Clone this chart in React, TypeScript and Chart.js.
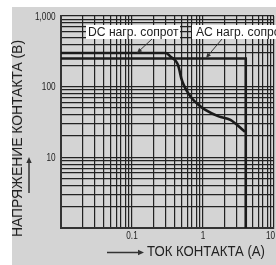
import React, { useEffect, useRef } from "react";
import { Chart, registerables } from "chart.js";

Chart.register(...registerables);

// ---- data ----
const dcCurrent = [0.01, 0.3, 0.35, 0.41, 0.445, 0.465, 0.495, 0.535, 0.6, 0.7, 0.87, 1.08, 1.66, 2.43, 3.9];
const dcVoltage = [300, 300, 265, 233, 203, 172, 131, 106, 85, 68, 55, 47, 38, 34, 23];
const acCurrent = [0.01, 4, 4];
const acVoltage = [250, 250, 1];

const xDecades = [0.01, 0.1, 1];
const yDecades = [1, 10, 100];
const gridMultipliers = [1, 2, 3, 4, 5, 6, 7, 8, 9];

const xLabelValues = [0.1, 1, 10];
const xLabelTexts = ["0.1", "1", "10"];
const yLabelValues = [10, 100, 1000];
const yLabelTexts = ["10", "100", "1,000"];

const yTitle = "НАПРЯЖЕНИЕ КОНТАКТА (В)";
const xTitle = "ТОК КОНТАКТА (A)";
const dcNote = "DC нагр. сопрот";
const acNote = "AC нагр. сопрот";

const GREY = "#d4d4d4";
const INK = "#222";

function buildGrid(decades: number[], last: number) {
  const out: { value: number }[] = [];
  decades.forEach((d) => gridMultipliers.forEach((m) => out.push({ value: +(d * m).toPrecision(6) })));
  out.push({ value: last });
  return out;
}

function condText(
  ctx: CanvasRenderingContext2D,
  text: string,
  x: number,
  y: number,
  size: number,
  width: number | null,
  sxDefault: number,
  align: CanvasTextAlign,
  angle = 0
) {
  ctx.save();
  ctx.font = `${size}px "Liberation Sans", Arial, sans-serif`;
  const w = ctx.measureText(text).width;
  const sx = width ? width / w : sxDefault;
  ctx.translate(x, y);
  if (angle) ctx.rotate(angle);
  ctx.scale(sx, 1);
  ctx.textAlign = align;
  ctx.textBaseline = "middle";
  ctx.fillStyle = INK;
  ctx.fillText(text, 0, 0);
  ctx.restore();
}

function arrow(ctx: CanvasRenderingContext2D, x1: number, y1: number, x2: number, y2: number, lw: number, head: number) {
  const a = Math.atan2(y2 - y1, x2 - x1);
  ctx.save();
  ctx.strokeStyle = "#333";
  ctx.fillStyle = "#333";
  ctx.lineWidth = lw;
  ctx.beginPath();
  ctx.moveTo(x1, y1);
  ctx.lineTo(x2 - Math.cos(a) * head * 0.6, y2 - Math.sin(a) * head * 0.6);
  ctx.stroke();
  ctx.beginPath();
  ctx.moveTo(x2, y2);
  ctx.lineTo(x2 - head * Math.cos(a) + head * 0.45 * Math.sin(a), y2 - head * Math.sin(a) - head * 0.45 * Math.cos(a));
  ctx.lineTo(x2 - head * Math.cos(a) - head * 0.45 * Math.sin(a), y2 - head * Math.sin(a) + head * 0.45 * Math.cos(a));
  ctx.closePath();
  ctx.fill();
  ctx.restore();
}

const decorPlugin = {
  id: "decor",
  beforeDraw(chart: any) {
    const ctx = chart.ctx as CanvasRenderingContext2D;
    ctx.save();
    ctx.fillStyle = "#ffffff";
    ctx.fillRect(0, 0, chart.width, chart.height);
    ctx.fillStyle = GREY;
    ctx.fillRect(12, 7, chart.width - 12, chart.height - 7);
    ctx.restore();
  },
  afterDraw(chart: any) {
    const ctx = chart.ctx as CanvasRenderingContext2D;
    const xs = chart.scales.x;
    const ys = chart.scales.y;
    // tick labels
    yLabelValues.forEach((v, i) => {
      condText(ctx, yLabelTexts[i], 55.5, ys.getPixelForValue(v) + 1, 10, null, 0.82, "right");
    });
    xLabelValues.forEach((v, i) => {
      const px = xs.getPixelForValue(v);
      const isLast = i === xLabelValues.length - 1;
      condText(ctx, xLabelTexts[i], isLast ? px + 1 : px, 236, 10, null, 0.82, isLast ? "right" : "center");
    });
    // axis titles
    condText(ctx, yTitle, 18, 138.5, 15, 197, 0.84, "center", -Math.PI / 2);
    arrow(ctx, 29, 193, 29, 157, 1.5, 6);
    condText(ctx, xTitle, 147, 252, 15, 118, 0.84, "left");
    arrow(ctx, 107, 252.5, 144, 252.5, 1.5, 6);
    // annotations
    ctx.save();
    ctx.fillStyle = "#ffffff";
    ctx.fillRect(86, 25, 94, 14);
    ctx.fillRect(192, 25, 90, 14);
    ctx.restore();
    const noteSx = (() => {
      ctx.save();
      ctx.font = `12px "Liberation Sans", Arial, sans-serif`;
      const w = ctx.measureText(dcNote).width;
      ctx.restore();
      return 90.5 / w;
    })();
    condText(ctx, dcNote, 88, 32.5, 12, null, noteSx, "left");
    condText(ctx, acNote, 196, 32.5, 12, null, noteSx, "left");
    arrow(ctx, 152, 39, 137, 53, 1, 5);
    arrow(ctx, 222, 39, 206, 58, 1, 5);
  },
};

export default function App() {
  const ref = useRef<HTMLCanvasElement | null>(null);
  useEffect(() => {
    if (!ref.current) return;
    const gridOpts = { color: INK, lineWidth: 1.2, drawTicks: false };
    const chart = new Chart(ref.current, {
      type: "scatter",
      data: {
        datasets: [
          {
            label: "DC",
            data: dcCurrent.map((x, i) => ({ x, y: dcVoltage[i] })),
            showLine: true,
            borderColor: "#1a1a1a",
            borderWidth: 2.6,
            pointRadius: 0,
            cubicInterpolationMode: "monotone",
          },
          {
            label: "AC",
            data: acCurrent.map((x, i) => ({ x, y: acVoltage[i] })),
            showLine: true,
            borderColor: "#1a1a1a",
            borderWidth: 2.6,
            pointRadius: 0,
            tension: 0,
          },
        ],
      },
      options: {
        responsive: false,
        animation: false,
        events: [],
        layout: { padding: { top: 16, right: 2, left: 0, bottom: 0 } },
        plugins: { legend: { display: false }, tooltip: { enabled: false } },
        scales: {
          x: {
            type: "logarithmic",
            min: 0.01,
            max: 10,
            grid: gridOpts,
            border: { color: "#333", width: 2 },
            ticks: { display: false },
            afterBuildTicks: (s: any) => {
              s.ticks = buildGrid(xDecades, 10);
            },
            afterFit: (s: any) => {
              s.height = 37;
              s.paddingLeft = 0;
              s.paddingRight = 0;
            },
          },
          y: {
            type: "logarithmic",
            min: 1,
            max: 1000,
            grid: gridOpts,
            border: { color: "#333", width: 2 },
            ticks: { display: false },
            afterBuildTicks: (s: any) => {
              s.ticks = buildGrid(yDecades, 1000);
            },
            afterFit: (s: any) => {
              s.width = 61;
              s.paddingTop = 0;
              s.paddingBottom = 0;
            },
          },
        },
      },
      plugins: [decorPlugin],
    } as any);
    return () => chart.destroy();
  }, []);
  return (
    <div style={{ position: "absolute", left: 0, top: 0, width: 276, height: 265 }}>
      <canvas ref={ref} width={276} height={265} />
    </div>
  );
}
